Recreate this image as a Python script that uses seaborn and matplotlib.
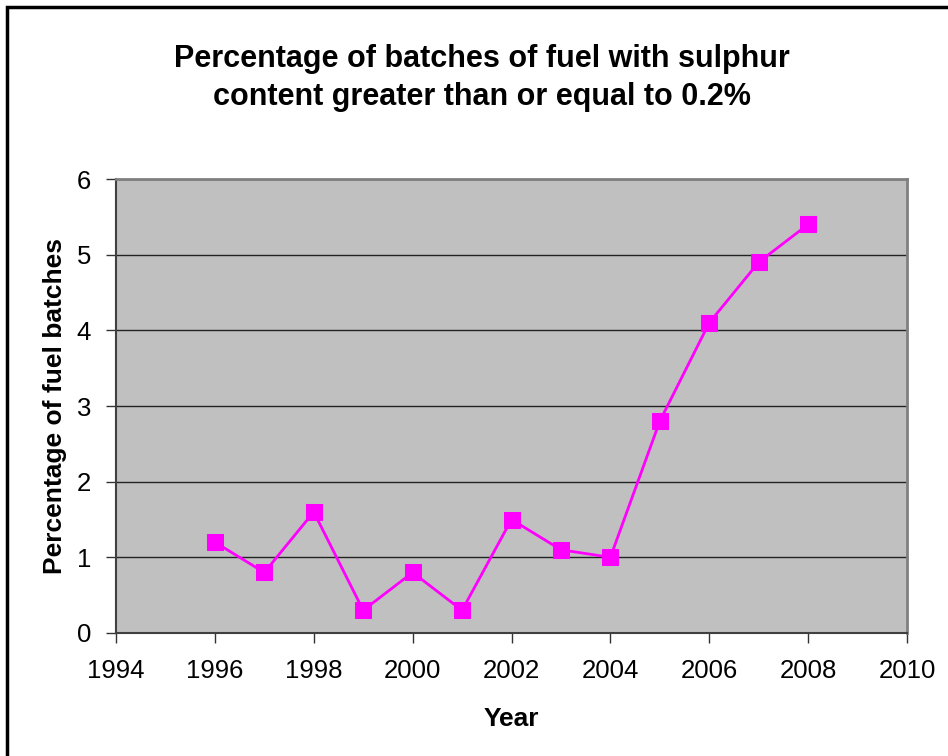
import seaborn as sns
import pandas as pd
import matplotlib.pyplot as plt
from matplotlib.patches import Rectangle

# data
years = [1996, 1997, 1998, 1999, 2000, 2001, 2002, 2003, 2004, 2005, 2006, 2007, 2008]
pct = [1.2, 0.8, 1.6, 0.3, 0.8, 0.3, 1.5, 1.1, 1.0, 2.8, 4.1, 4.9, 5.4]
df = pd.DataFrame({'Year': years, 'Pct': pct})

sns.set_style('white')
plt.rcParams['font.family'] = ['Liberation Sans', 'DejaVu Sans']
plt.rcParams['text.color'] = 'black'
plt.rcParams['axes.labelcolor'] = 'black'
plt.rcParams['xtick.color'] = 'black'
plt.rcParams['ytick.color'] = 'black'

fig = plt.figure(figsize=(9.48, 7.56), dpi=100)
ax = fig.add_axes([116/948, 1-633/756, (907-116)/948, (633-179)/756])
ax.set_facecolor('#C0C0C0')

sns.lineplot(data=df, x='Year', y='Pct', ax=ax, color='#FF00FF', lw=2,
             marker='s', markersize=11, markeredgecolor='#FF00FF')

ax.set_xlim(1994, 2010)
ax.set_ylim(0, 6)
ax.set_xticks(range(1994, 2011, 2))
ax.set_yticks(range(0, 7))
ax.yaxis.grid(True, color='#222222', lw=1)
ax.set_axisbelow(True)
ax.tick_params(axis='both', direction='out', length=7, width=1, color='#333333',
               labelsize=18.5, bottom=True, left=True)
ax.tick_params(axis='x', pad=12)
ax.tick_params(axis='y', pad=11)
for s in ['top', 'right']:
    ax.spines[s].set_color('#808080')
    ax.spines[s].set_linewidth(2)
for s in ['left', 'bottom']:
    ax.spines[s].set_color('#404040')
    ax.spines[s].set_linewidth(1.5)

ax.set_xlabel('Year', fontsize=19, fontweight='bold', labelpad=17)
ax.set_ylabel('Percentage of fuel batches', fontsize=19, fontweight='bold', labelpad=7)

fig.text(0.508, 1-78/756, 'Percentage of batches of fuel with sulphur\ncontent greater than or equal to 0.2%',
         ha='center', va='center', fontsize=22, fontweight='bold', linespacing=1.35)

# outer border (only top and left fall inside the image)
fig.patches.append(Rectangle((7/948, -0.05), 1.1, 1.05-7/756, transform=fig.transFigure,
                             fill=False, ec='black', lw=2.5, clip_on=False))

plt.savefig('out.png', dpi=100)
